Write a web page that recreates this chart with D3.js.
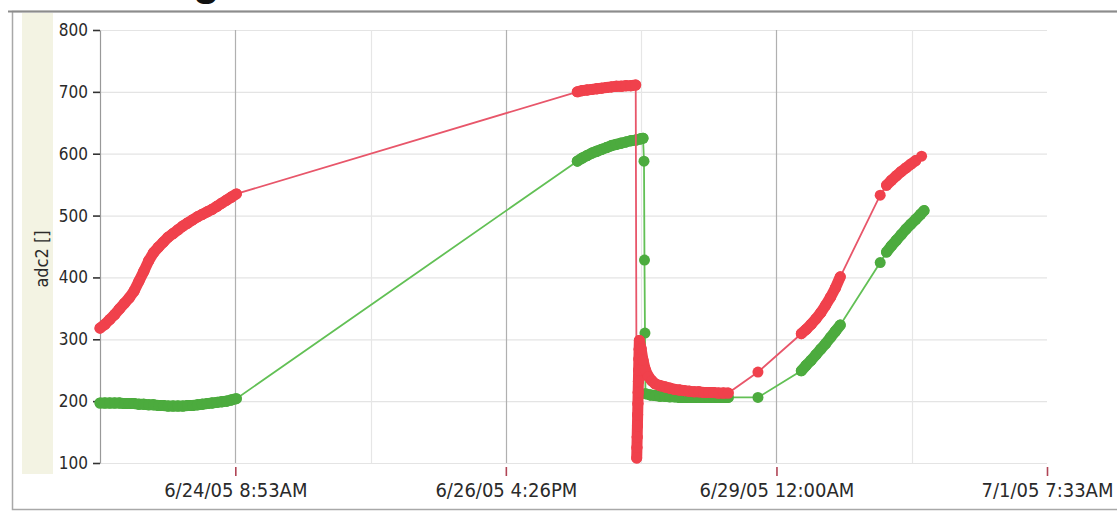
<!DOCTYPE html>
<html>
<head>
<meta charset="utf-8">
<script src="https://cdn.jsdelivr.net/npm/d3@7"></script>
<style>
body { margin: 0; background: #fff; }
svg { display: block; }
</style>
</head>
<body>
<div id="chart"></div>
<script>
// log start / end of the time axis
var startLabel = "6/23/05 5:06AM";
var endLabel = "7/1/05 7:33AM";
var tickLabels = ["6/24/05 8:53AM", "6/26/05 4:26PM", "6/29/05 12:00AM", "7/1/05 7:33AM"];
var yTicks = [100, 200, 300, 400, 500, 600, 700, 800];

// hours since log start, and adc2 readings
var redHours = [0,1,2,3,4,5,6,7,8,9,10,11,12,13,14,15,16,17,18,19,20,21,22,23,24,25,26,27,28,
  98,99,100,101,102,103,104,105,106,107,108,109,110,
  110.2,110.25,110.3,110.35,110.4,110.45,110.5,110.55,110.6,110.65,110.7,110.75,
  111.1,111.5,112,112.6,113.3,114,115,116,117,118,119,120,121,122,123,124,125,126,127,128,129,
  135.1,
  144,145,146,147,148,149,150,151,152,
  160.2,
  161.5,162.5,163.5,164.5,165.5,166.5,167.5,168.7];
var redValues = [318,324,332,340,349,358,367,378,394,410,427,440,449,457,465,471,477,483,488,493,498,502,506,510,515,520,525,530,535,
  700,702,703,704,705,706,707,708,709,709,710,710,711,
  108,125,142,160,178,196,214,232,250,268,284,298,
  285,266,250,240,233,228,225,223,221,219,218,217,216,215,215,214,214,214,213,213,213,
  247,
  309,316,324,333,343,355,368,383,401,
  533,
  549,557,564,571,577,583,589,596];

var greenHours = [0,1,2,3,4,5,6,7,8,9,10,11,12,13,14,15,16,17,18,19,20,21,22,23,24,25,26,27,28,
  98,99,100,101,102,103,104,105,106,107,108,109,110,111,111.5,
  111.7,111.8,111.9,
  112,113,114,115,116,117,118,119,120,121,122,123,124,125,126,127,128,129,
  135.1,
  144,145,146,147,148,149,150,151,152,
  160.2,
  161.5,162.5,163.5,164.5,165.5,166.5,167.5,168.5,169.2];
var greenValues = [197,197,197,197,197,196,196,196,195,195,194,194,193,193,192,192,192,192,193,193,194,195,196,197,198,199,200,202,204,
  588,593,597,601,604,607,610,613,615,617,619,621,622,624,625,
  588,428,310,
  212,210,209,208,208,207,207,206,206,206,206,206,206,206,206,206,206,206,
  206,
  249,258,266,275,284,293,303,313,323,
  424,
  441,451,460,469,478,486,494,502,508];

var W = 1117, H = 524;
var svg = d3.select("#chart").append("svg").attr("width", W).attr("height", H);

var parse = d3.timeParse("%m/%d/%y %I:%M%p");
var fmt = d3.timeFormat("%-m/%-d/%y %-I:%M%p");
var t0 = parse(startLabel), t1 = parse(endLabel);
var tickDates = tickLabels.map(parse);

var x = d3.scaleTime().domain([t0, t1]).range([100, 1047]);
var y = d3.scaleLinear().domain([100, 800]).range([463, 30]);

function toDate(h) { return new Date(t0.getTime() + h * 3600e3); }

// frame and left band
svg.append("rect").attr("x", 22).attr("y", 13).attr("width", 31).attr("height", 461).attr("fill", "#f3f3e3");
svg.append("rect").attr("x", 12.5).attr("y", 11.5).attr("width", 1120).attr("height", 498)
  .attr("fill", "none").attr("stroke", "#a8a8a8").attr("stroke-width", 1.5);
svg.append("line").attr("x1", 8).attr("x2", W).attr("y1", 11.5).attr("y2", 11.5)
  .attr("stroke", "#8c8c8c").attr("stroke-width", 2);

// cut-off title descender
svg.append("text").attr("x", 193).attr("y", -5).attr("font-family", "Liberation Sans")
  .attr("font-weight", "bold").attr("font-size", 44).attr("fill", "#111").text("g");

// gridlines
svg.append("g").selectAll("line").data(yTicks).enter().append("line")
  .attr("x1", 100).attr("x2", 1047).attr("y1", function(d){ return y(d) + 0.5; }).attr("y2", function(d){ return y(d) + 0.5; })
  .attr("stroke", "#e4e4e4").attr("stroke-width", 1.2);
var minorDates = [];
for (var i = 0; i < tickDates.length - 1; i++) {
  minorDates.push(new Date((tickDates[i].getTime() + tickDates[i + 1].getTime()) / 2));
}
svg.append("g").selectAll("line").data(minorDates).enter().append("line")
  .attr("x1", function(d){ return Math.round(x(d)) + 0.5; }).attr("x2", function(d){ return Math.round(x(d)) + 0.5; })
  .attr("y1", 30).attr("y2", 463).attr("stroke", "#e6e6e6").attr("stroke-width", 1.2);
svg.append("g").selectAll("line").data(tickDates.slice(0, 3)).enter().append("line")
  .attr("x1", function(d){ return Math.round(x(d)) + 0.5; }).attr("x2", function(d){ return Math.round(x(d)) + 0.5; })
  .attr("y1", 30).attr("y2", 463).attr("stroke", "#b0b0b0").attr("stroke-width", 1.2);

// axes
var yAxis = svg.append("g").attr("transform", "translate(100,0)")
  .call(d3.axisLeft(y).tickValues(yTicks).tickSize(7).tickSizeOuter(0));
yAxis.select(".domain").attr("stroke", "#999").attr("stroke-width", 1.2);
yAxis.selectAll(".tick line").attr("stroke", "#333").attr("stroke-width", 1.6);
yAxis.selectAll(".tick text").attr("x", -12).attr("font-family", "DejaVu Sans Condensed")
  .attr("font-size", 17).attr("fill", "#2a2a2a");

var xAxis = svg.append("g").attr("transform", "translate(0,467)")
  .call(d3.axisBottom(x).tickValues(tickDates).tickFormat(fmt).tickSize(9).tickSizeOuter(0));
xAxis.select(".domain").remove();
xAxis.selectAll(".tick line").attr("stroke", "#b04455").attr("stroke-width", 1.6);
xAxis.selectAll(".tick text").attr("y", 30).attr("dy", 0).attr("font-family", "DejaVu Sans Condensed")
  .attr("font-size", 20).attr("fill", "#2a2a2a");

svg.append("text").attr("transform", "translate(48,259) rotate(-90)").attr("text-anchor", "middle")
  .attr("font-family", "DejaVu Sans Condensed").attr("font-size", 18).attr("fill", "#2a2a2a").text("adc2 []");

// series: thin connecting line, thick band where samples are dense, then markers
var series = [
  { hours: greenHours, values: greenValues, line: "#62c055", dot: "#4cab3e" },
  { hours: redHours, values: redValues, line: "#e8566a", dot: "#f0414c" }
];
var line = d3.line().x(function(d){ return x(toDate(d[0])); }).y(function(d){ return y(d[1]); });
series.forEach(function(s) {
  var pts = s.hours.map(function(h, i){ return [h, s.values[i]]; });
  svg.append("path").datum(pts).attr("d", line).attr("fill", "none")
    .attr("stroke", s.line).attr("stroke-width", 1.8);
  var pairs = d3.pairs(pts).filter(function(p){
    return p[1][0] - p[0][0] <= 1.01 && Math.abs(p[1][1] - p[0][1]) < 30;
  });
  svg.append("g").selectAll("line").data(pairs).enter().append("line")
    .attr("x1", function(p){ return x(toDate(p[0][0])); }).attr("y1", function(p){ return y(p[0][1]); })
    .attr("x2", function(p){ return x(toDate(p[1][0])); }).attr("y2", function(p){ return y(p[1][1]); })
    .attr("stroke", s.dot).attr("stroke-width", 11).attr("stroke-linecap", "round");
  svg.append("g").selectAll("circle").data(pts).enter().append("circle")
    .attr("cx", function(d){ return x(toDate(d[0])); }).attr("cy", function(d){ return y(d[1]); })
    .attr("r", 5.5).attr("fill", s.dot);
});
</script>
</body>
</html>
